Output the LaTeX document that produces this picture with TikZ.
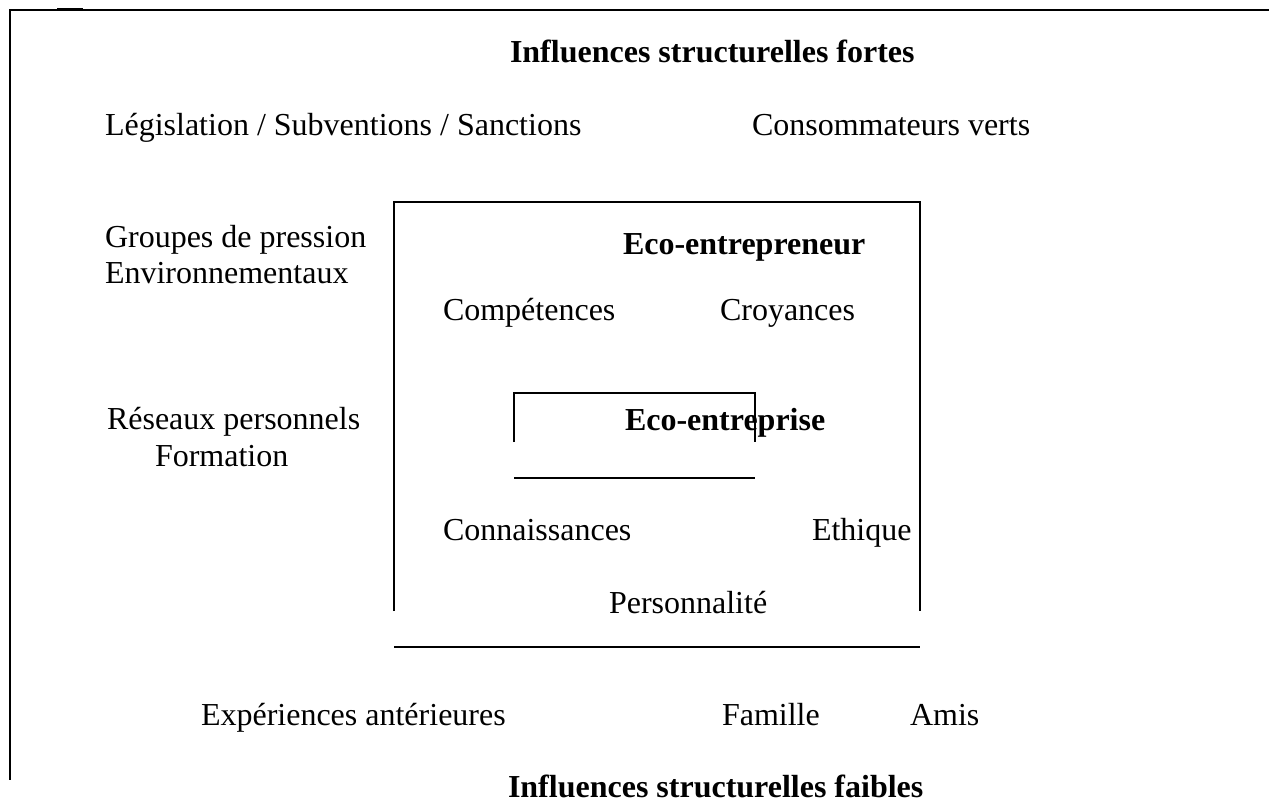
\documentclass[tikz,border=0pt]{standalone}
\usepackage{fontspec}
\setmainfont{Liberation Serif}
\begin{document}
\begin{tikzpicture}[x=1pt,y=-1pt,
  lbl/.style={anchor=base west,inner sep=0pt,outer sep=0pt,font=\fontsize{32}{36.8}\selectfont},
  ttl/.style={lbl,font=\fontsize{32}{36.8}\selectfont\bfseries},
  frame/.style={line width=2pt,line cap=rect}]
\useasboundingbox (0,0) rectangle (1269,809);
% outer frame
\draw[frame] (1269,10) -- (10,10) -- (10,779);
\draw[line width=3pt] (57,9) -- (83,9);
% eco-entrepreneur box
\draw[frame,line cap=butt] (394,611) -- (394,202) -- (920,202) -- (920,611);
\draw[frame,line cap=butt] (394,647) -- (920,647);
% eco-entreprise box
\draw[frame,line cap=butt] (514,442) -- (514,393) -- (755,393) -- (755,442);
\draw[frame,line cap=butt] (514,478) -- (755,478);
% texts
\node[ttl] (t1) at (510,62) {Influences structurelles fortes};
\node[lbl] (leg) at (105,135) {Législation / Subventions / Sanctions};
\node[lbl] (cons) at (752,135) {Consommateurs verts};
\node[lbl] (grp) at (105,247) {Groupes de pression};
\node[lbl] (env) at (105,283.8) {Environnementaux};
\node[ttl] (eer) at (623,254) {Eco-entrepreneur};
\node[lbl] (comp) at (443,320) {Compétences};
\node[lbl] (croy) at (720,320) {Croyances};
\node[lbl] (res) at (107,429) {Réseaux personnels};
\node[lbl] (form) at (155,466) {Formation};
\node[ttl] (ees) at (625,430) {Eco-entreprise};
\node[lbl] (conn) at (443,540) {Connaissances};
\node[lbl] (eth) at (812,540) {Ethique};
\node[lbl] (pers) at (609,613) {Personnalité};
\node[lbl] (exp) at (201,725) {Expériences antérieures};
\node[lbl] (fam) at (722,725) {Famille};
\node[lbl] (amis) at (910,725) {Amis};
\node[ttl] (t2) at (508,797) {Influences structurelles faibles};
\end{tikzpicture}
\end{document}
